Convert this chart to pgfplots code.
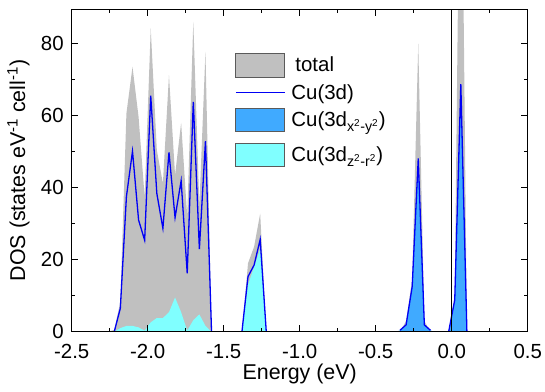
\documentclass[border=0pt]{standalone}
\usepackage{fontspec}
\setmainfont{Liberation Sans}
\usepackage{pgfplots}
\usepackage{pgfplotstable}
\pgfplotsset{compat=1.18}
\definecolor{totgray}{RGB}{192,192,192}
\definecolor{xyblue}{RGB}{64,170,255}
\definecolor{zcyan}{RGB}{128,255,255}
\definecolor{dosblue}{RGB}{0,0,245}
\definecolor{legframe}{RGB}{90,90,90}

\pgfplotstableread{
x y
-2.26 0
-2.22 0.5
-2.18 8.3
-2.14 60.6
-2.10 73.5
-2.06 59.6
-2.02 37.4
-1.98 84.2
-1.94 50.4
-1.90 41.2
-1.86 71.2
-1.82 43.5
-1.78 58
-1.74 32
-1.70 86
-1.66 35
-1.62 77.7
-1.58 0
-1.38 0
-1.34 19
-1.30 23.6
-1.26 32.8
-1.22 0
-0.34 0
-0.30 3
-0.26 14.5
-0.22 80
-0.18 3
-0.14 0
-0.02 0
0.02 10
0.06 165
0.10 0
}\total

\pgfplotstableread{
x y
-2.22 0
-2.18 6.5
-2.14 37.5
-2.10 50.1
-2.06 31
-2.02 25.4
-1.98 65.5
-1.94 38.4
-1.90 28.7
-1.86 49.8
-1.82 31.7
-1.78 41.9
-1.74 16.2
-1.70 63.8
-1.66 22.9
-1.62 52.9
-1.58 0
nan nan
-1.38 0
-1.34 15.3
-1.30 18.5
-1.26 25.6
-1.22 0
nan nan
-0.34 0.4
-0.30 1.9
-0.26 12.5
-0.22 48.1
-0.18 1.9
-0.14 0.4
nan nan
-0.02 0
0.02 8.8
0.06 68.7
0.10 0
}\cud

\pgfplotstableread{
x y
-0.36 0
-0.34 0.4
-0.30 1.6
-0.26 12
-0.22 47
-0.18 1.6
-0.14 0.4
-0.12 0
-0.02 0
0.02 8.5
0.06 68
0.10 0
}\cuxy

\pgfplotstableread{
x y
-2.26 0
-2.22 0
-2.18 1
-2.14 1.6
-2.10 1.6
-2.06 1.2
-2.02 0.3
-1.98 2.6
-1.94 3.8
-1.90 3.8
-1.86 5.4
-1.82 9.5
-1.78 5.4
-1.74 0.3
-1.70 3.2
-1.66 4.8
-1.62 1.6
-1.58 0
-1.38 0
-1.34 13
-1.30 18
-1.26 23
-1.22 0
}\cuz

\begin{document}
\begin{tikzpicture}
\begin{axis}[
  at={(0,0)}, anchor=south west,
  scale only axis, width=456bp, height=322.4bp,
  xmin=-2.5, xmax=0.5, ymin=0, ymax=89.5,
  xtick={-2.5,-2,-1.5,-1,-0.5,0,0.5},
  xticklabels={-2.5,-2.0,-1.5,-1.0,-0.5,0.0,0.5},
  ytick={0,20,40,60,80},
  yticklabels={0,20,40,60,80},
  minor x tick num=1, minor y tick num=1,
  tick align=inside,
  major tick length=6.7bp, minor tick length=3.5bp,
  every tick/.style={black, line width=0.9bp},
  axis line style={black, line width=1bp},
  tick label style={font=\fontsize{20.5}{24}\selectfont, inner sep=1bp},
  xticklabel style={yshift=-11.8bp},
  yticklabel style={xshift=-6.8bp},
  label style={font=\fontsize{21.5}{25}\selectfont},
  xlabel={Energy (eV)},
  ylabel={DOS (states eV\textsuperscript{-1} cell\textsuperscript{-1})},
  ylabel shift=7bp,
  unbounded coords=jump,
  axis on top,
  legend cell align=left,
  legend style={draw=none, fill=none, at={(0.358,0.865)}, anchor=north west,
    font=\fontsize{20.5}{24}\selectfont, row sep=5bp, column sep=4bp,
    inner xsep=0pt, inner ysep=0pt},
]
\addplot[fill=totgray, draw=none, forget plot] table {\total} \closedcycle;
\addplot[fill=xyblue, draw=none, forget plot] table {\cuxy} \closedcycle;
\addplot[fill=zcyan, draw=none, forget plot] table {\cuz} \closedcycle;
\addplot[dosblue, line width=1.3bp, forget plot] table {\cud};
\addplot[black, line width=1bp, forget plot] coordinates {(0,0) (0,100)};

\addlegendimage{legend image code/.code={\draw[fill=totgray, draw=legframe, line width=0.8bp] (0bp,-11.75bp) rectangle (49bp,11.75bp);}}
\addlegendentry{\hspace{4bp}total}
\addlegendimage{legend image code/.code={\draw[dosblue, line width=1.3bp] (0bp,0bp) -- (49bp,0bp);}}
\addlegendentry{Cu(3d)}
\addlegendimage{legend image code/.code={\draw[fill=xyblue, draw=legframe, line width=0.8bp] (0bp,-11.75bp) rectangle (49bp,11.75bp);}}
\addlegendentry{Cu(3d\textsubscript{x\textsuperscript{2}-y\textsuperscript{2}})}
\addlegendimage{legend image code/.code={\path (0bp,18bp); \draw[fill=zcyan, draw=legframe, line width=0.8bp] (0bp,-11.75bp) rectangle (49bp,11.75bp);}}
\addlegendentry{Cu(3d\textsubscript{z\textsuperscript{2}-r\textsuperscript{2}})}
\end{axis}
\pgfresetboundingbox
\path[use as bounding box] (-71.7bp,-60.3bp) rectangle (473.3bp,331.7bp);
\end{tikzpicture}
\end{document}
